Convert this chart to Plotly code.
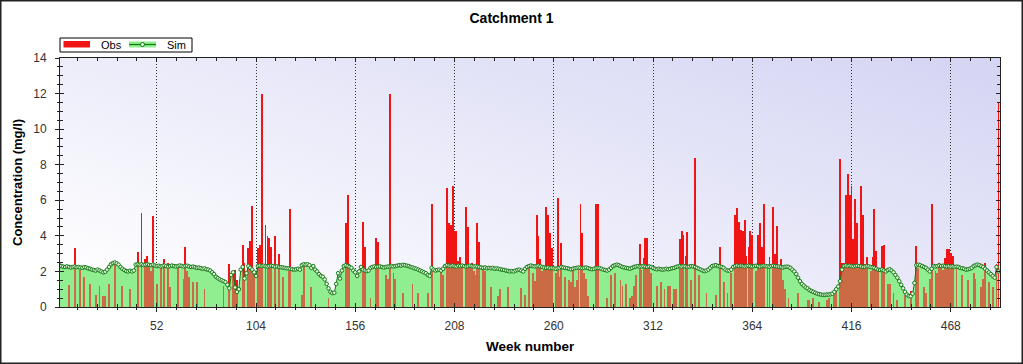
import base64
import plotly.graph_objects as go

# ---------------- data ----------------
sim_conc = [
    2.35, 2.30, 2.27, 2.25, 2.28, 2.25, 2.22, 2.25, 2.27, 2.24,
    2.25, 2.22, 2.20, 2.24, 2.22, 2.18, 2.15, 2.10, 2.08, 2.05,
    2.10, 2.05, 2.00, 1.95, 1.98, 2.10, 2.25, 2.40, 2.47, 2.50,
    2.45, 2.38, 2.25, 2.15, 2.08, 2.02, 2.00, 2.04, 2.00, 2.05,
    2.38, 2.40, 2.38, 2.40, 2.36, 2.38, 2.40, 2.37, 2.35, 2.38,
    2.33, 2.30, 2.32, 2.28, 2.30, 2.33, 2.30, 2.27, 2.30, 2.33,
    2.30, 2.28, 2.30, 2.33, 2.31, 2.28, 2.30, 2.32, 2.28, 2.25,
    2.27, 2.24, 2.20, 2.22, 2.18, 2.15, 2.17, 2.12, 2.10, 2.05,
    1.95, 1.85, 1.70, 1.62, 1.55, 1.50, 1.45, 1.40, 1.25, 1.05,
    1.80, 1.95, 1.10, 0.85, 1.00, 2.10, 2.25, 1.60, 1.90, 2.30,
    2.20, 2.10, 1.95, 1.75, 2.30, 2.33, 2.30, 2.32, 2.30, 2.28,
    2.30, 2.32, 2.30, 2.27, 2.28, 2.25, 2.24, 2.22, 2.20, 2.18,
    2.17, 2.15, 2.12, 2.10, 2.12, 2.15, 2.10, 2.35, 2.40, 2.38,
    2.40, 2.35, 2.20, 2.30, 2.10, 2.00, 1.85, 1.75, 1.70, 1.55,
    1.30, 1.05, 0.85, 0.78, 0.80, 1.30, 1.90, 1.60, 2.05, 2.30,
    2.35, 2.30, 2.25, 2.20, 2.05, 1.95, 1.75, 2.00, 2.25, 2.10,
    2.05, 2.02, 2.05, 2.20, 2.25, 2.28, 2.25, 2.27, 2.28, 2.25,
    2.22, 2.25, 2.27, 2.28, 2.30, 2.28, 2.30, 2.32, 2.35, 2.33,
    2.37, 2.35, 2.32, 2.30, 2.25, 2.22, 2.18, 2.15, 2.10, 2.05,
    2.00, 1.95, 1.90, 1.80, 1.75, 2.20, 2.10, 2.05, 2.08, 2.10,
    2.05, 2.15, 2.30, 2.35, 2.32, 2.30, 2.33, 2.30, 2.28, 2.32,
    2.30, 2.33, 2.30, 2.28, 2.30, 2.32, 2.30, 2.28, 2.30, 2.27,
    2.25, 2.22, 2.20, 2.22, 2.18, 2.20, 2.18, 2.20, 2.15, 2.17,
    2.15, 2.12, 2.10, 2.08, 2.05, 2.03, 2.00, 2.02, 2.00, 2.05,
    2.08, 2.10, 2.05, 2.00, 2.15, 2.25, 2.30, 2.33, 2.30, 2.28,
    2.30, 2.32, 2.28, 2.25, 2.22, 2.20, 2.22, 2.18, 2.20, 2.17,
    2.15, 2.18, 2.20, 2.25, 2.22, 2.20, 2.18, 2.15, 2.12, 2.15,
    2.18, 2.20, 2.22, 2.20, 2.18, 2.20, 2.22, 2.18, 2.15, 2.12,
    2.15, 2.18, 2.20, 2.18, 2.15, 2.10, 2.08, 2.05, 2.10, 2.20,
    2.30, 2.35, 2.38, 2.35, 2.30, 2.25, 2.22, 2.20, 2.18, 2.15,
    2.20, 2.25, 2.28, 2.30, 2.27, 2.28, 2.30, 2.27, 2.25, 2.28,
    2.25, 2.20, 2.15, 2.12, 2.15, 2.12, 2.10, 2.12, 2.15, 2.12,
    2.15, 2.18, 2.20, 2.25, 2.28, 2.30, 2.27, 2.30, 2.28, 2.25,
    2.27, 2.30, 2.28, 2.25, 2.20, 2.15, 2.10, 2.05, 2.02, 2.05,
    2.10, 2.20, 2.30, 2.33, 2.35, 2.30, 2.28, 2.25, 2.20, 2.10,
    2.05, 2.05, 2.10, 2.25, 2.30, 2.33, 2.30, 2.32, 2.30, 2.28,
    2.30, 2.32, 2.30, 2.28, 2.30, 2.32, 2.30, 2.28, 2.30, 2.32,
    2.30, 2.28, 2.27, 2.30, 2.32, 2.30, 2.28, 2.27, 2.25, 2.22,
    2.25, 2.27, 2.25, 2.20, 2.10, 2.00, 1.85, 1.65, 1.45, 1.30,
    1.20, 1.10, 1.05, 0.95, 0.90, 0.85, 0.80, 0.75, 0.72, 0.70,
    0.68, 0.68, 0.70, 0.70, 0.72, 0.75, 0.85, 1.00, 1.15, 1.45,
    2.10, 2.30, 2.33, 2.30, 2.32, 2.30, 2.28, 2.30, 2.32, 2.30,
    2.28, 2.25, 2.27, 2.30, 2.28, 2.25, 2.22, 2.20, 2.15, 2.10,
    2.08, 2.10, 2.05, 2.00, 2.08, 2.12, 2.05, 1.95, 1.80, 1.65,
    1.45, 1.25, 1.05, 0.85, 0.70, 0.62, 0.60, 0.75, 1.35, 2.35,
    2.38, 2.35, 2.30, 2.25, 2.20, 2.10, 2.00, 2.15, 2.30, 2.28,
    2.30, 2.33, 2.30, 2.32, 2.30, 2.28, 2.30, 2.27, 2.28, 2.25,
    2.27, 2.25, 2.20, 2.18, 2.15, 2.10, 2.12, 2.15, 2.20, 2.30,
    2.35, 2.38, 2.35, 2.30, 2.25, 2.15, 2.05, 1.95, 1.85, 1.75,
    1.65, 2.25, 2.00,
]
weeks = list(range(1, len(sim_conc) + 1))

obs_weeks = [
    1, 6, 9, 12, 14, 17, 20, 22, 24, 25,
    27, 30, 34, 38, 42, 44, 46, 47, 48, 49,
    50, 52, 54, 56, 58, 59, 63, 66, 67, 68,
    69, 71, 73, 77, 87, 90, 92, 93, 94, 97,
    98, 100, 101, 102, 103, 105, 106, 107, 109, 110,
    111, 112, 114, 116, 118, 121, 122, 128, 129, 133,
    142, 151, 152, 153, 160, 161, 164, 167, 168, 172,
    173, 174, 176, 177, 181, 186, 189, 194, 196, 201,
    202, 204, 205, 206, 207, 208, 209, 210, 211, 212,
    214, 215, 216, 217, 218, 219, 220, 221, 223, 224,
    227, 231, 232, 236, 243, 245, 247, 249, 250, 251,
    252, 253, 254, 255, 256, 257, 258, 259, 261, 262,
    263, 264, 266, 268, 269, 270, 271, 272, 273, 274,
    275, 276, 277, 278, 282, 283, 288, 290, 292, 295,
    296, 298, 300, 301, 302, 303, 305, 306, 307, 308,
    309, 310, 311, 314, 316, 318, 320, 321, 323, 324,
    326, 327, 328, 329, 330, 332, 334, 336, 340, 345,
    347, 349, 351, 353, 355, 356, 357, 358, 359, 360,
    361, 362, 363, 364, 366, 367, 368, 369, 370, 372,
    373, 375, 376, 377, 378, 379, 380, 381, 383, 388,
    393, 394, 396, 399, 403, 404, 407, 408, 410, 411,
    412, 413, 414, 415, 416, 417, 418, 419, 420, 421,
    422, 423, 424, 426, 427, 428, 429, 430, 432, 433,
    435, 436, 438, 440, 444, 447, 450, 451, 454, 455,
    457, 458, 460, 461, 462, 463, 464, 465, 466, 467,
    468, 469, 471, 474, 477, 480, 481, 484, 485, 486,
    488, 490, 492, 493,
]
obs_conc = [
    4.0, 1.25, 3.3, 2.1, 1.7, 1.3, 0.7, 1.2, 0.6, 0.6,
    1.3, 2.4, 1.2, 1.0, 3.1, 5.3, 2.7, 2.85, 2.5, 2.0,
    5.1, 1.3, 2.2, 2.7, 2.5, 1.1, 2.3, 1.6, 3.4, 2.0,
    1.7, 1.4, 1.4, 1.0, 1.2, 2.4, 2.0, 2.1, 1.5, 3.5,
    2.5, 3.3, 3.7, 5.7, 2.0, 3.3, 3.5, 12.0, 4.6, 4.0,
    3.9, 3.4, 4.0, 3.0, 1.7, 2.0, 5.5, 0.7, 2.4, 1.1,
    0.5, 4.7, 6.3, 2.4, 4.8, 3.4, 0.5, 3.9, 3.65, 1.8,
    1.6, 12.0, 1.9, 1.6, 0.8, 1.3, 0.8, 0.8, 5.8, 2.1,
    1.8, 6.7, 4.7, 4.6, 6.8, 4.3, 4.25, 2.6, 2.8, 2.2,
    5.65, 4.5, 2.2, 2.5, 2.0, 1.8, 4.7, 3.65, 2.3, 2.0,
    1.15, 0.6, 1.0, 1.1, 1.05, 0.7, 2.25, 1.9, 1.45, 5.2,
    4.0, 2.7, 2.0, 2.1, 5.65, 5.2, 4.15, 3.3, 1.9, 6.15,
    1.7, 3.6, 1.7, 1.5, 1.4, 2.0, 1.1, 1.5, 2.1, 5.8,
    4.15, 1.9, 1.6, 0.6, 5.8, 5.8, 0.5, 1.8, 1.9, 1.5,
    1.2, 1.3, 0.5, 0.6, 1.2, 1.8, 3.55, 2.1, 2.75, 3.9,
    3.9, 2.2, 1.9, 1.2, 1.4, 1.0, 1.2, 1.2, 1.0, 1.0,
    3.8, 4.3, 4.05, 2.85, 4.2, 1.5, 8.4, 1.8, 0.8, 0.7,
    3.35, 1.4, 0.8, 1.9, 5.2, 5.55, 4.8, 4.35, 4.25, 4.9,
    2.85, 3.4, 4.25, 4.05, 2.0, 4.05, 4.75, 3.4, 5.8, 2.3,
    2.8, 5.65, 3.0, 4.55, 2.2, 2.7, 1.5, 1.0, 0.5, 0.8,
    0.4, 0.4, 0.5, 0.3, 0.4, 0.5, 0.7, 0.9, 8.3, 2.45,
    2.45, 6.3, 7.5, 6.3, 6.8, 3.8, 6.1, 4.7, 2.3, 6.8,
    5.2, 2.4, 2.8, 2.0, 2.8, 5.5, 3.15, 2.0, 3.45, 3.5,
    1.3, 1.3, 0.8, 0.4, 0.7, 0.9, 3.45, 2.2, 1.1, 0.8,
    1.6, 5.8, 2.0, 1.9, 2.45, 2.25, 2.1, 2.75, 3.25, 3.25,
    3.05, 2.85, 2.2, 1.8, 1.5, 1.9, 1.6, 1.1, 1.6, 2.45,
    1.4, 1.1, 2.4, 11.5,
]

week_ticks = [52, 104, 156, 208, 260, 312, 364, 416, 468]
x_range = [1.3, 493.8]
y_range = [0, 14]
series_names = ["Obs", "Sim"]

# ---------------- styling ----------------
FONT = "Liberation Sans, Arial, sans-serif"
W, H = 1023, 364
ML, MR, MT, MB = 60, 23, 58, 57
PW, PH = W - ML - MR, H - MT - MB
GREEN = "#90ee90"
DARK_GREEN = "#107a10"
RED = "#f01414"
AX = "#222222"


def xp(px):
    return (px - ML) / PW


def yp(py):
    return 1 - (py - MT) / PH


svg = (
    '<svg xmlns="http://www.w3.org/2000/svg" width="200" height="100" '
    'viewBox="0 0 200 100" preserveAspectRatio="none">'
    '<defs><linearGradient id="g" x1="0" y1="0.9" x2="1" y2="0.1">'
    '<stop offset="0" stop-color="#ffffff"/>'
    '<stop offset="1" stop-color="#d6d6f4"/>'
    '</linearGradient></defs>'
    '<rect x="0" y="0" width="200" height="100" fill="url(#g)"/></svg>'
)
bg_src = "data:image/svg+xml;base64," + base64.b64encode(svg.encode()).decode()

fig = go.Figure()

# opaque green area (bottom layer)
fig.add_trace(go.Scatter(
    x=weeks, y=sim_conc, mode="lines", line=dict(width=0, color=GREEN),
    fill="tozeroy", fillcolor=GREEN, showlegend=False, hoverinfo="skip",
    xaxis="x", yaxis="y",
))

# observed bars
fig.add_trace(go.Bar(
    x=obs_weeks, y=obs_conc, name=series_names[0], width=0.45,
    marker=dict(color=RED, line=dict(width=0)),
    xaxis="x2", yaxis="y2", showlegend=False,
))

# translucent green over the bars, plus the simulated line
fig.add_trace(go.Scatter(
    x=weeks, y=sim_conc, mode="lines", line=dict(width=0, color=GREEN),
    fill="tozeroy", fillcolor="rgba(144,238,144,0.40)", showlegend=False,
    hoverinfo="skip", xaxis="x3", yaxis="y3",
))
fig.add_trace(go.Scatter(
    x=weeks, y=sim_conc, name=series_names[1], mode="lines+markers",
    line=dict(color=DARK_GREEN, width=1),
    marker=dict(symbol="circle", size=3.6, color="#e4fae0",
                line=dict(color="#1a7a1a", width=1)),
    xaxis="x3", yaxis="y3", showlegend=False,
))

tickfont = dict(family=FONT, size=12, color="#333333")


def overlay_x(side, anchor):
    return dict(overlaying="x", side=side, anchor=anchor, range=x_range,
                tickmode="array", tickvals=week_ticks, showticklabels=False,
                ticks="inside", ticklen=4, tickcolor=AX,
                minor=dict(tickmode="linear", tick0=0, dtick=52 / 5, ticks="inside",
                           ticklen=3, tickcolor=AX),
                showgrid=False, showline=False, zeroline=False)


def overlay_y(side, anchor):
    return dict(overlaying="y", side=side, anchor=anchor, range=y_range,
                tickmode="linear", tick0=0, dtick=2, showticklabels=False,
                ticks="inside", ticklen=4, tickcolor=AX,
                minor=dict(tickmode="linear", tick0=0, dtick=0.5, ticks="inside",
                           ticklen=3, tickcolor=AX),
                showgrid=False, showline=False, zeroline=False)


# hand-drawn legend (box, swatches, labels)
legend_shapes = [
    dict(type="rect", xref="paper", yref="paper", x0=xp(60), x1=xp(192),
         y0=yp(52), y1=yp(38), fillcolor="white", line=dict(color="black", width=1)),
    dict(type="rect", xref="paper", yref="paper", x0=xp(63.5), x1=xp(90),
         y0=yp(47.5), y1=yp(41), fillcolor=RED, line=dict(width=0)),
    dict(type="rect", xref="paper", yref="paper", x0=xp(129), x1=xp(156),
         y0=yp(47.5), y1=yp(41.5), fillcolor=GREEN, line=dict(width=0)),
    dict(type="line", xref="paper", yref="paper", x0=xp(129), x1=xp(156),
         y0=yp(44.5), y1=yp(44.5), line=dict(color=DARK_GREEN, width=1.2)),
    dict(type="circle", xref="paper", yref="paper", x0=xp(140.5), x1=xp(144.5),
         y0=yp(46.5), y1=yp(42.5), fillcolor="#e4fae0", line=dict(color=DARK_GREEN, width=1)),
]
legend_texts = [
    dict(text=series_names[0], xref="paper", yref="paper", x=xp(98.5), y=yp(44.8),
         xanchor="left", yanchor="middle", showarrow=False,
         font=dict(family=FONT, size=11, color="black")),
    dict(text=series_names[1], xref="paper", yref="paper", x=xp(164.5), y=yp(44.8),
         xanchor="left", yanchor="middle", showarrow=False,
         font=dict(family=FONT, size=11, color="black")),
]
axis_titles = [
    dict(text="<b>Week number</b>", xref="paper", yref="paper", x=0.5, y=yp(346.5),
         xanchor="center", yanchor="middle", showarrow=False,
         font=dict(family=FONT, size=13.5, color="black")),
    dict(text="<b>Concentration (mg/l)</b>", xref="paper", yref="paper", x=xp(17.5),
         y=0.5, xanchor="center", yanchor="middle", textangle=-90, showarrow=False,
         font=dict(family=FONT, size=13, color="black")),
]

fig.update_layout(
    width=W, height=H,
    margin=dict(l=ML, r=MR, t=MT, b=MB, pad=0, autoexpand=False),
    paper_bgcolor="white",
    plot_bgcolor="rgba(0,0,0,0)",
    font=dict(family=FONT, size=12, color=AX),
    title=dict(text="<b>Catchment 1</b>", x=0.5, xref="container", xanchor="center",
               y=1 - 18 / H, yref="container", yanchor="middle",
               font=dict(family=FONT, size=14, color="black")),
    showlegend=False,
    bargap=0,
    hovermode=False,
    xaxis=dict(
        range=x_range, tickmode="array", tickvals=week_ticks,
        ticktext=[str(t) for t in week_ticks],
        ticks="outside", ticklen=4, tickcolor=AX,
        minor=dict(tickmode="linear", tick0=0, dtick=52 / 5, ticks="outside",
                   ticklen=2, tickcolor=AX),
        showgrid=True, gridcolor="#333333", griddash="1px,2px", gridwidth=1,
        showline=True, linecolor=AX, linewidth=1, mirror=True, zeroline=False,
        tickfont=tickfont, ticklabelstandoff=4,
    ),
    yaxis=dict(
        range=y_range, tickmode="linear", tick0=0, dtick=2,
        ticks="outside", ticklen=4, tickcolor=AX,
        minor=dict(tickmode="linear", tick0=0, dtick=0.5, ticks="outside",
                   ticklen=2, tickcolor=AX),
        showgrid=False, showline=True, linecolor=AX, linewidth=1, mirror=True,
        zeroline=False, tickfont=tickfont, ticklabelstandoff=6,
    ),
    xaxis2=overlay_x("top", "y2"),
    yaxis2=overlay_y("right", "x2"),
    xaxis3=overlay_x("bottom", "y3"),
    yaxis3=overlay_y("left", "x3"),
    images=[dict(source=bg_src, xref="paper", yref="paper", x=0, y=1,
                 sizex=1, sizey=1, xanchor="left", yanchor="top",
                 sizing="stretch", layer="below")],
    shapes=legend_shapes + [
        dict(type="rect", xref="paper", yref="paper",
             x0=(-ML + 0.75) / PW, x1=1 + (MR - 0.75) / PW,
             y0=(-MB + 0.75) / PH, y1=1 + (MT - 0.75) / PH,
             line=dict(color=AX, width=1.5), layer="above")],
    annotations=legend_texts + axis_titles,
)

fig.write_html("out.html",
               config={"displayModeBar": False},
               post_script="document.body.style.margin='0';"
                           "document.body.style.overflow='hidden';")
